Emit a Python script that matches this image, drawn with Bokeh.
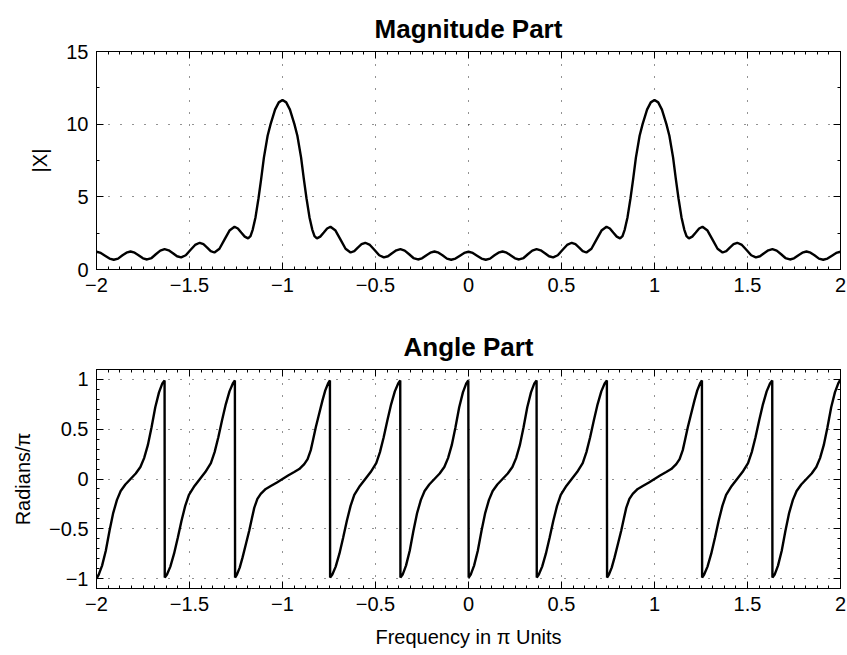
import numpy as np
from bokeh.plotting import figure
from bokeh.models import Range1d, FixedTicker, LinearAxis
from bokeh.layouts import column
from bokeh.embed import file_html
from bokeh.resources import INLINE

# ---------------- data ----------------
X_TICKS = [-2, -1.5, -1, -0.5, 0, 0.5, 1, 1.5, 2]
X_TICK_LABELS = ["\u22122", "\u22121.5", "\u22121", "\u22120.5", "0", "0.5", "1", "1.5", "2"]
MAG_TICKS = [0, 5, 10, 15]
MAG_TICK_LABELS = ["0", "5", "10", "15"]
ANG_TICKS = [-1, -0.5, 0, 0.5, 1]
ANG_TICK_LABELS = ["\u22121", "\u22120.5", "0", "0.5", "1"]

MAG_FREQ = [
    -2.000, -1.977, -1.954, -1.930, -1.907, -1.884, -1.862, -1.839, -1.817, -1.795, -1.772, -1.750,
    -1.728, -1.704, -1.681, -1.657, -1.634, -1.612, -1.589, -1.567, -1.545, -1.520, -1.495, -1.470,
    -1.445, -1.425, -1.405, -1.386, -1.366, -1.339, -1.312, -1.285, -1.258, -1.240, -1.222, -1.203,
    -1.185, -1.172, -1.160, -1.145, -1.129, -1.115, -1.100, -1.080, -1.064, -1.040, -1.020, -1.000,
    -0.980, -0.960, -0.936, -0.920, -0.900, -0.885, -0.871, -0.855, -0.840, -0.828, -0.815, -0.797,
    -0.778, -0.760, -0.742, -0.715, -0.688, -0.661, -0.634, -0.614, -0.595, -0.575, -0.555, -0.530,
    -0.505, -0.480, -0.455, -0.433, -0.411, -0.388, -0.366, -0.343, -0.319, -0.296, -0.272, -0.250,
    -0.228, -0.205, -0.183, -0.161, -0.138, -0.116, -0.093, -0.070, -0.046, -0.023, 0.000,
    0.023, 0.046, 0.070, 0.093, 0.116, 0.138, 0.161, 0.183, 0.205, 0.228, 0.250, 0.272,
    0.296, 0.319, 0.343, 0.366, 0.388, 0.411, 0.433, 0.455, 0.480, 0.505, 0.530, 0.555,
    0.575, 0.595, 0.614, 0.634, 0.661, 0.688, 0.715, 0.742, 0.760, 0.778, 0.797, 0.815,
    0.828, 0.840, 0.855, 0.871, 0.885, 0.900, 0.920, 0.936, 0.960, 0.980, 1.000,
    1.020, 1.040, 1.064, 1.080, 1.100, 1.115, 1.129, 1.145, 1.160, 1.172, 1.185, 1.203,
    1.222, 1.240, 1.258, 1.285, 1.312, 1.339, 1.366, 1.386, 1.405, 1.425, 1.445, 1.470,
    1.495, 1.520, 1.545, 1.567, 1.589, 1.612, 1.634, 1.657, 1.681, 1.704, 1.728, 1.750,
    1.772, 1.795, 1.817, 1.839, 1.862, 1.884, 1.907, 1.930, 1.954, 1.977, 2.000,
]
MAG_VALUES = [
    1.22, 1.14, 0.95, 0.75, 0.67, 0.75, 0.96, 1.16, 1.24, 1.16, 0.97, 0.77,
    0.69, 0.79, 1.05, 1.30, 1.40, 1.32, 1.12, 0.91, 0.83, 0.98, 1.34, 1.69,
    1.84, 1.74, 1.51, 1.27, 1.17, 1.43, 2.06, 2.68, 2.94, 2.82, 2.54, 2.26,
    2.14, 2.30, 2.75, 3.60, 4.90, 6.20, 7.70, 9.20, 10.00, 11.00, 11.50, 11.66,
    11.50, 11.00, 10.00, 9.20, 7.70, 6.20, 4.90, 3.60, 2.75, 2.30, 2.14, 2.26,
    2.54, 2.82, 2.94, 2.68, 2.06, 1.43, 1.17, 1.27, 1.51, 1.74, 1.84, 1.69,
    1.34, 0.98, 0.83, 0.91, 1.12, 1.32, 1.40, 1.30, 1.05, 0.79, 0.69, 0.77,
    0.97, 1.16, 1.24, 1.16, 0.96, 0.75, 0.67, 0.75, 0.95, 1.14, 1.22,
    1.14, 0.95, 0.75, 0.67, 0.75, 0.96, 1.16, 1.24, 1.16, 0.97, 0.77, 0.69,
    0.79, 1.05, 1.30, 1.40, 1.32, 1.12, 0.91, 0.83, 0.98, 1.34, 1.69, 1.84,
    1.74, 1.51, 1.27, 1.17, 1.43, 2.06, 2.68, 2.94, 2.82, 2.54, 2.26, 2.14,
    2.30, 2.75, 3.60, 4.90, 6.20, 7.70, 9.20, 10.00, 11.00, 11.50, 11.66,
    11.50, 11.00, 10.00, 9.20, 7.70, 6.20, 4.90, 3.60, 2.75, 2.30, 2.14, 2.26,
    2.54, 2.82, 2.94, 2.68, 2.06, 1.43, 1.17, 1.27, 1.51, 1.74, 1.84, 1.69,
    1.34, 0.98, 0.83, 0.91, 1.12, 1.32, 1.40, 1.30, 1.05, 0.79, 0.69, 0.77,
    0.97, 1.16, 1.24, 1.16, 0.96, 0.75, 0.67, 0.75, 0.95, 1.14, 1.22,
]

ANG_FREQ = [
    -2.000, -1.988, -1.970, -1.950, -1.930, -1.910, -1.890, -1.870, -1.845, -1.817,
    -1.789, -1.764, -1.744, -1.724, -1.704, -1.684, -1.664, -1.646, -1.634,
    -1.633, -1.621, -1.603, -1.583, -1.563, -1.543, -1.523, -1.503, -1.473, -1.444,
    -1.415, -1.385, -1.365, -1.345, -1.325, -1.305, -1.285, -1.267, -1.256,
    -1.255, -1.245, -1.230, -1.215, -1.195, -1.179, -1.165, -1.152, -1.135, -1.117,
    -1.090, -1.063, -1.030, -1.000, -0.970, -0.937, -0.910, -0.883, -0.865, -0.848,
    -0.835, -0.821, -0.805, -0.785, -0.770, -0.755, -0.745,
    -0.744, -0.732, -0.714, -0.694, -0.674, -0.654, -0.634, -0.614, -0.584, -0.555,
    -0.526, -0.496, -0.476, -0.456, -0.436, -0.416, -0.396, -0.378, -0.367,
    -0.366, -0.354, -0.336, -0.316, -0.296, -0.276, -0.256, -0.236, -0.211, -0.183,
    -0.155, -0.130, -0.110, -0.090, -0.070, -0.050, -0.030, -0.012, -0.001,
    0.001, 0.012, 0.030, 0.050, 0.070, 0.090, 0.110, 0.130, 0.155, 0.183,
    0.211, 0.236, 0.256, 0.276, 0.296, 0.316, 0.336, 0.354, 0.366,
    0.367, 0.378, 0.396, 0.416, 0.436, 0.456, 0.476, 0.496, 0.526, 0.555,
    0.584, 0.614, 0.634, 0.654, 0.674, 0.694, 0.714, 0.732, 0.744,
    0.745, 0.755, 0.770, 0.785, 0.805, 0.821, 0.835, 0.848, 0.865, 0.883,
    0.910, 0.937, 0.970, 1.000, 1.030, 1.063, 1.090, 1.117, 1.135, 1.152,
    1.165, 1.179, 1.195, 1.215, 1.230, 1.245, 1.255,
    1.256, 1.267, 1.285, 1.305, 1.325, 1.345, 1.365, 1.385, 1.415, 1.444,
    1.473, 1.503, 1.523, 1.543, 1.563, 1.583, 1.603, 1.621, 1.633,
    1.634, 1.646, 1.664, 1.684, 1.704, 1.724, 1.744, 1.764, 1.789, 1.817,
    1.845, 1.870, 1.890, 1.910, 1.930, 1.950, 1.970, 1.988, 2.000,
]
ANG_VALUES = [
    -1.00, -0.96, -0.87, -0.72, -0.52, -0.34, -0.21, -0.12, -0.055, 0.00,
    0.055, 0.12, 0.21, 0.34, 0.52, 0.72, 0.87, 0.96, 0.99,
    -0.99, -0.96, -0.88, -0.75, -0.59, -0.42, -0.27, -0.16, -0.07, 0.00,
    0.07, 0.16, 0.27, 0.42, 0.59, 0.75, 0.88, 0.96, 0.99,
    -0.99, -0.96, -0.89, -0.79, -0.64, -0.52, -0.40, -0.29, -0.20, -0.15,
    -0.10, -0.07, -0.035, 0.00, 0.035, 0.07, 0.10, 0.15, 0.20, 0.29,
    0.40, 0.52, 0.64, 0.79, 0.89, 0.96, 0.99,
    -0.99, -0.96, -0.88, -0.75, -0.59, -0.42, -0.27, -0.16, -0.07, 0.00,
    0.07, 0.16, 0.27, 0.42, 0.59, 0.75, 0.88, 0.96, 0.99,
    -0.99, -0.96, -0.87, -0.72, -0.52, -0.34, -0.21, -0.12, -0.055, 0.00,
    0.055, 0.12, 0.21, 0.34, 0.52, 0.72, 0.87, 0.96, 0.99,
    -0.99, -0.96, -0.87, -0.72, -0.52, -0.34, -0.21, -0.12, -0.055, 0.00,
    0.055, 0.12, 0.21, 0.34, 0.52, 0.72, 0.87, 0.96, 0.99,
    -0.99, -0.96, -0.88, -0.75, -0.59, -0.42, -0.27, -0.16, -0.07, 0.00,
    0.07, 0.16, 0.27, 0.42, 0.59, 0.75, 0.88, 0.96, 0.99,
    -0.99, -0.96, -0.89, -0.79, -0.64, -0.52, -0.40, -0.29, -0.20, -0.15,
    -0.10, -0.07, -0.035, 0.00, 0.035, 0.07, 0.10, 0.15, 0.20, 0.29,
    0.40, 0.52, 0.64, 0.79, 0.89, 0.96, 0.99,
    -0.99, -0.96, -0.88, -0.75, -0.59, -0.42, -0.27, -0.16, -0.07, 0.00,
    0.07, 0.16, 0.27, 0.42, 0.59, 0.75, 0.88, 0.96, 0.99,
    -0.99, -0.96, -0.87, -0.72, -0.52, -0.34, -0.21, -0.12, -0.055, 0.00,
    0.055, 0.12, 0.21, 0.34, 0.52, 0.72, 0.87, 0.96, 1.00,
]

# ---------------- styling ----------------
FONT = "Liberation Sans"
TICK_SIZE = "20px"
LABEL_SIZE = "20px"
TITLE_SIZE = "26px"


def style_axis(ax, ticks, labels, minor, show_labels):
    ax.ticker = FixedTicker(ticks=ticks, minor_ticks=minor)
    ax.axis_line_color = "black"
    ax.axis_line_width = 1
    ax.major_tick_in = 7
    ax.major_tick_out = 0
    ax.minor_tick_in = 3
    ax.minor_tick_out = 0
    ax.major_tick_line_color = "black"
    ax.minor_tick_line_color = "black"
    ax.major_label_text_font = FONT
    if show_labels:
        ax.major_label_overrides = {t: l for t, l in zip(ticks, labels)}
        ax.major_label_text_font_size = TICK_SIZE
        ax.major_label_text_color = "black"
        ax.major_label_standoff = 8
    else:
        # mirrored tick marks only (MATLAB box): no label text at all
        ax.major_label_text_color = None
        ax.major_label_text_font_size = "2px"
        ax.major_label_standoff = 0


def make_panel(height, top, bottom, yrange, yticks, ylabels, yminor, title, ylabel, xlabel=None):
    p = figure(width=847, height=height, x_range=Range1d(-2, 2), y_range=Range1d(*yrange),
               output_backend="svg", toolbar_location=None,
               min_border_left=96, min_border_right=7, min_border_top=top, min_border_bottom=bottom)
    p.background_fill_color = "white"
    p.border_fill_color = "white"
    p.outline_line_color = "black"
    p.outline_line_width = 1

    p.title.text = title
    p.title.align = "center"
    p.title.text_font = FONT
    p.title.text_font_size = TITLE_SIZE
    p.title.text_font_style = "bold"
    p.title.text_color = "black"
    p.title.standoff = 16

    xminor = [round(v, 4) for v in np.arange(-2, 2.0001, 0.0625)]
    p.add_layout(LinearAxis(), "above")
    p.add_layout(LinearAxis(), "right")
    for ax in p.xaxis:
        style_axis(ax, X_TICKS, X_TICK_LABELS, xminor, ax in p.below)
    for ax in p.yaxis:
        style_axis(ax, yticks, ylabels, yminor, ax in p.left)

    yax = p.left[0]
    yax.axis_label = ylabel
    yax.axis_label_text_font = FONT
    yax.axis_label_text_font_size = LABEL_SIZE
    yax.axis_label_text_font_style = "normal"
    yax.axis_label_text_color = "black"
    yax.axis_label_standoff = 12
    if xlabel:
        xax = p.below[0]
        xax.axis_label = xlabel
        xax.axis_label_text_font = FONT
        xax.axis_label_text_font_size = LABEL_SIZE
        xax.axis_label_text_font_style = "normal"
        xax.axis_label_text_color = "black"
        xax.axis_label_standoff = 12

    p.xgrid.ticker = FixedTicker(ticks=X_TICKS)
    p.ygrid.ticker = FixedTicker(ticks=yticks)
    for g in (p.xgrid, p.ygrid):
        g.grid_line_color = "black"
        g.grid_line_alpha = 0.85
        g.grid_line_width = 1
        g.grid_line_dash = "1 11"
    return p


mag_minor = [round(v, 4) for v in np.arange(0, 15.0001, 2.5)]
ang_minor = [round(v, 4) for v in np.arange(-1.1, 1.1001, 0.1)]

p1 = make_panel(320, 51, 51, (0, 15), MAG_TICKS, MAG_TICK_LABELS, mag_minor, "Magnitude Part", "|X|")
p1.line(MAG_FREQ, MAG_VALUES, line_color="black", line_width=2.4)

p2 = make_panel(335, 49, 67, (-1.1, 1.1), ANG_TICKS, ANG_TICK_LABELS, ang_minor, "Angle Part",
                "Radians/\u03c0", "Frequency in \u03c0 Units")
p2.line(ANG_FREQ, ANG_VALUES, line_color="black", line_width=2.4)

layout = column(p1, p2, spacing=0)
open("out.html", "w").write(file_html(layout, INLINE))
